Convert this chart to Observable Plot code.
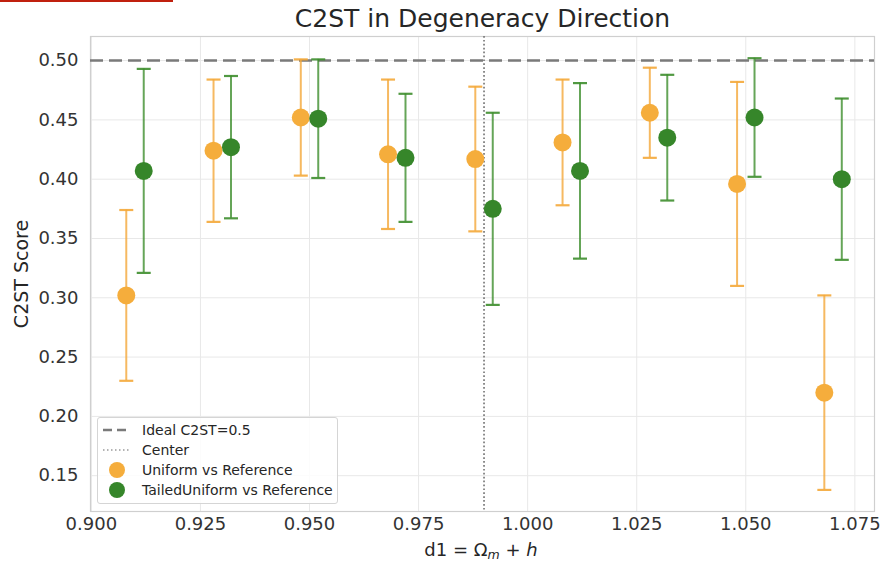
<!DOCTYPE html>
<html>
<head>
<meta charset="utf-8">
<script src="https://cdn.jsdelivr.net/npm/d3@7"></script>
<script src="https://cdn.jsdelivr.net/npm/@observablehq/plot@0.6"></script>
<style>
  html, body { margin: 0; padding: 0; background: #fff; }
  #wrap { position: relative; width: 880px; height: 564px; font-family: "DejaVu Sans", sans-serif; color: #262626; }
  #redbar { position: absolute; left: 0; top: 0; width: 173px; height: 2px; background: #c0200e; }
  #title { position: absolute; left: 90px; width: 785px; top: 6px; line-height: 1; text-align: center; font-size: 25px; color: #262626; }
  #ylab { position: absolute; left: 21px; top: 274px; line-height: 1; transform: translate(-50%, -50%) rotate(-90deg); font-size: 19px; white-space: nowrap; }
  #xlab { position: absolute; left: 481px; top: 541px; line-height: 1; transform: translateX(-50%); font-size: 18px; white-space: nowrap; }
  #xlab sub { font-size: 12.5px; font-style: italic; vertical-align: -3px; }
  #legend { position: absolute; left: 97px; top: 417px; width: 241px; height: 87px; border: 1px solid #d5d5d5; border-radius: 3px; background: rgba(255,255,255,0.85); font-size: 14px; box-sizing: border-box; padding: 2px 0 0 4px; }
  .li { display: flex; align-items: center; height: 20px; }
  .sw { width: 30px; height: 16px; position: relative; margin-right: 10px; }
</style>
</head>
<body>
<div id="wrap">
  <div id="redbar"></div>
  <div id="chart"></div>
  <div id="title">C2ST in Degeneracy Direction</div>
  <div id="ylab">C2ST Score</div>
  <div id="xlab">d1 = Ω<sub>m</sub> + <i>h</i></div>
  <div id="legend"></div>
</div>
<script>
// ---- data ----
const centers = [0.910, 0.930, 0.950, 0.970, 0.990, 1.010, 1.030, 1.050, 1.070];
const uniformMean = [0.302, 0.424, 0.452, 0.421, 0.417, 0.431, 0.456, 0.396, 0.220];
const uniformErr  = [0.072, 0.060, 0.049, 0.063, 0.061, 0.053, 0.038, 0.086, 0.082];
const tailedMean  = [0.407, 0.427, 0.451, 0.418, 0.375, 0.407, 0.435, 0.452, 0.400];
const tailedErr   = [0.086, 0.060, 0.050, 0.054, 0.081, 0.074, 0.053, 0.050, 0.068];
const seriesNames = ["Uniform vs Reference", "TailedUniform vs Reference"];
const seriesOffset = [-0.002, 0.002];
const idealValue = 0.5;
const centerValue = 0.990;
const xTicks = [0.900, 0.925, 0.950, 0.975, 1.000, 1.025, 1.050, 1.075];
const yTicks = [0.15, 0.20, 0.25, 0.30, 0.35, 0.40, 0.45, 0.50];

const colors = ["#F5AD3C", "#36862A"];
const barColors = ["#F4A83A", "#3E8E2E"];

const rows = [];
[[uniformMean, uniformErr], [tailedMean, tailedErr]].forEach(([m, e], s) => {
  centers.forEach((c, i) => {
    rows.push({series: s, x: c + seriesOffset[s], y: m[i], lo: m[i] - e[i], hi: m[i] + e[i]});
  });
});

const cap = {
  draw(context, size) {
    const w = Math.sqrt(size / Math.PI);
    context.moveTo(-w, 0);
    context.lineTo(w, 0);
  }
};

const marks = [
  Plot.gridX(xTicks, {stroke: "#e8e8e8", strokeOpacity: 1, strokeWidth: 1}),
  Plot.gridY(yTicks, {stroke: "#e8e8e8", strokeOpacity: 1, strokeWidth: 1}),
  Plot.frame({stroke: "#cfcfcf", strokeWidth: 1.2}),
  Plot.ruleY([idealValue], {stroke: "#7a7a7a", strokeWidth: 2.5, strokeDasharray: "13,6"}),
  Plot.ruleX([centerValue], {stroke: "#7a7a7a", strokeWidth: 1.7, strokeDasharray: "1.7,2.2"}),
];
[0, 1].forEach(s => {
  const d = rows.filter(r => r.series === s);
  marks.push(
    Plot.ruleX(d, {x: "x", y1: "lo", y2: "hi", stroke: barColors[s], strokeWidth: 2, strokeOpacity: 0.8}),
    Plot.dot(d, {x: "x", y: "lo", symbol: cap, r: 7, fill: "none", stroke: barColors[s], strokeWidth: 2.2, strokeOpacity: 0.9}),
    Plot.dot(d, {x: "x", y: "hi", symbol: cap, r: 7, fill: "none", stroke: barColors[s], strokeWidth: 2.2, strokeOpacity: 0.9}),
    Plot.dot(d, {x: "x", y: "y", r: 9, fill: colors[s], stroke: "none"})
  );
});

const chart = Plot.plot({
  width: 880,
  height: 564,
  marginTop: 36,
  marginBottom: 53,
  marginLeft: 90,
  marginRight: 6,
  style: {fontFamily: "DejaVu Sans, sans-serif", fontSize: "18px", color: "#333", background: "white"},
  x: {domain: [0.8998, 1.0795], ticks: xTicks, tickFormat: d3.format(".3f"), tickSize: 0, tickPadding: 6, label: null},
  y: {domain: [0.1198, 0.5203], ticks: yTicks, tickFormat: d3.format(".2f"), tickSize: 0, tickPadding: 12, label: null},
  marks
});
document.getElementById("chart").appendChild(chart);

// legend
const legend = document.getElementById("legend");
const items = [
  {label: "Ideal C2ST=0.5", kind: "dash"},
  {label: "Center", kind: "dot"},
  {label: seriesNames[0], kind: "pt", color: colors[0]},
  {label: seriesNames[1], kind: "pt", color: colors[1]}
];
items.forEach(it => {
  const li = document.createElement("div");
  li.className = "li";
  const sw = document.createElement("div");
  sw.className = "sw";
  if (it.kind === "dash") {
    sw.innerHTML = '<svg width="30" height="16"><line x1="1" x2="29" y1="8" y2="8" stroke="#7a7a7a" stroke-width="2.5" stroke-dasharray="9,5"/></svg>';
  } else if (it.kind === "dot") {
    sw.innerHTML = '<svg width="30" height="16"><line x1="1" x2="29" y1="8" y2="8" stroke="#9a9a9a" stroke-width="1.5" stroke-dasharray="1.5,2.5"/></svg>';
  } else {
    sw.innerHTML = `<svg width="30" height="16"><circle cx="15" cy="8" r="8" fill="${it.color}"/></svg>`;
  }
  const tx = document.createElement("span");
  tx.textContent = it.label;
  li.appendChild(sw);
  li.appendChild(tx);
  legend.appendChild(li);
});
</script>
</body>
</html>
